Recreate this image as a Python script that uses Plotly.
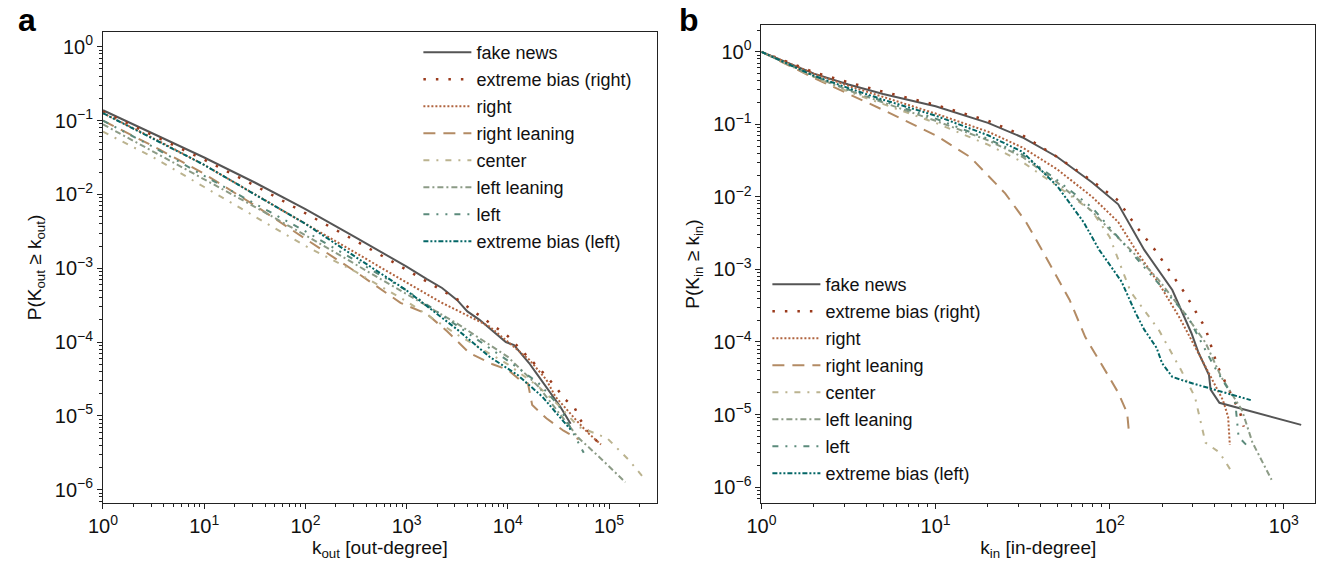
import plotly.graph_objects as go

# ---------------- data ----------------
series_names = ["fake news", "extreme bias (right)", "right", "right leaning",
                "center", "left leaning", "left", "extreme bias (left)"]

# Panel a: out-degree complementary CDF
kout_fake = [1, 3.16, 10, 31.6, 100, 316, 1000, 1585, 2240, 3160, 3980, 5250, 7080, 9550, 11500, 13800, 16200, 19100, 22400, 26900, 33100, 41700]
pout_fake = [0.138, 0.066, 0.0316, 0.0145, 6.3e-3, 2.6e-3, 1.05e-3, 7.1e-4, 5.4e-4, 3.7e-4, 2.6e-4, 2.0e-4, 1.41e-4, 1.0e-4, 9.1e-5, 6.8e-5, 5.2e-5, 3.8e-5, 2.8e-5, 2.04e-5, 1.32e-5, 7.8e-6]

kout_xright = [1, 3.16, 10, 31.6, 100, 316, 1000, 3160, 10000, 21400, 30200, 36300, 45700, 51300, 63100, 81300]
pout_xright = [0.132, 0.063, 0.0295, 0.0132, 5.6e-3, 2.34e-3, 9.5e-4, 3.8e-4, 1.2e-4, 4.1e-5, 2.4e-5, 1.7e-5, 1.29e-5, 9.1e-6, 6.0e-6, 4.1e-6]

kout_right = [1, 3.16, 10, 31.6, 100, 316, 1000, 2140, 6610, 16200, 24000, 29500, 46800, 61700, 83200]
pout_right = [0.126, 0.0575, 0.0251, 0.01, 4.0e-3, 1.58e-3, 6.3e-4, 3.5e-4, 1.62e-4, 5.8e-5, 3.1e-5, 1.82e-5, 8.9e-6, 5.9e-6, 4.1e-6]

kout_rlean = [1, 3.16, 10, 31.6, 100, 316, 870, 1585, 2510, 4170, 7080, 10000, 13800, 15800, 17400, 24000, 35500, 50100]
pout_rlean = [0.1, 0.0447, 0.019, 7.1e-3, 2.5e-3, 8.9e-4, 3.4e-4, 2.4e-4, 1.4e-4, 7.1e-5, 5.0e-5, 4.2e-5, 2.9e-5, 2.75e-5, 1.4e-5, 9.3e-6, 6.3e-6, 4.8e-6]

kout_center = [1, 3.16, 10, 31.6, 100, 316, 1000, 3160, 10000, 20000, 31600, 50100, 95500, 158000, 224000]
pout_center = [0.0708, 0.0316, 0.0126, 5.0e-3, 2.0e-3, 8.9e-4, 3.55e-4, 1.26e-4, 5.0e-5, 2.5e-5, 1.4e-5, 7.1e-6, 5.0e-6, 2.5e-6, 1.4e-6]

kout_llean = [1, 3.16, 10, 31.6, 100, 316, 1000, 3160, 10000, 20000, 31600, 50100, 79400, 145000]
pout_llean = [0.089, 0.038, 0.0158, 6.8e-3, 2.8e-3, 1.12e-3, 4.5e-4, 1.78e-4, 6.3e-5, 2.5e-5, 1.12e-5, 5.0e-6, 2.8e-6, 1.26e-6]

kout_left = [1, 3.16, 10, 31.6, 100, 316, 1000, 3160, 10000, 20000, 31600, 56200]
pout_left = [0.1, 0.0437, 0.0178, 7.6e-3, 3.16e-3, 1.26e-3, 5.0e-4, 1.66e-4, 5.6e-5, 2.8e-5, 1.4e-5, 3.16e-6]

kout_xleft = [1, 3.16, 10, 31.6, 100, 316, 1000, 3160, 6610, 12600, 21900, 41700]
pout_xleft = [0.126, 0.056, 0.0251, 0.01, 4.0e-3, 1.41e-3, 5.0e-4, 1.48e-4, 6.3e-5, 3.55e-5, 1.82e-5, 6.5e-6]

# Panel b: in-degree complementary CDF
kin_fake = [1, 2, 3.16, 5, 10, 20, 31.6, 50, 79.4, 112, 158, 229, 295, 324, 372, 380, 427, 1259]
pin_fake = [1, 0.5, 0.355, 0.263, 0.178, 0.105, 0.066, 0.0355, 0.0158, 7.9e-3, 1.86e-3, 5.2e-4, 1.32e-4, 7.1e-5, 3.5e-5, 2.2e-5, 1.45e-5, 7.2e-6]

kin_xright = [1, 2, 3.16, 5, 10, 20, 31.6, 50, 79.4, 112, 141, 182, 269, 355, 417, 562, 589]
pin_xright = [1, 0.525, 0.38, 0.282, 0.186, 0.112, 0.0708, 0.0355, 0.0166, 8.9e-3, 4.0e-3, 1.86e-3, 4.8e-4, 1.55e-4, 4.6e-5, 1.05e-5, 6.8e-6]

kin_right = [1, 2, 3.16, 5, 10, 20, 31.6, 50, 79.4, 112, 141, 191, 251, 316, 398, 447, 479, 490]
pin_right = [1, 0.5, 0.339, 0.24, 0.141, 0.0794, 0.0479, 0.024, 0.01, 4.5e-3, 1.86e-3, 6.5e-4, 2.2e-4, 7.8e-5, 2.7e-5, 1.58e-5, 9.3e-6, 3.8e-6]

kin_rlean = [1, 2, 3.16, 5, 10, 15.8, 25.1, 33.1, 41.7, 49, 58.9, 72.4, 85.1, 97.7, 112, 126, 129]
pin_rlean = [1, 0.437, 0.263, 0.158, 0.0708, 0.0355, 0.0112, 4.5e-3, 1.7e-3, 8.3e-4, 3.8e-4, 1.17e-4, 6.2e-5, 3.5e-5, 2.0e-5, 1.05e-5, 5.8e-6]

kin_center = [1, 2, 3.16, 5, 10, 20, 31.6, 50, 79.4, 100, 132, 191, 257, 309, 355, 427, 513]
pin_center = [1, 0.447, 0.282, 0.19, 0.105, 0.0525, 0.0302, 0.0141, 6.3e-3, 2.8e-3, 4.9e-4, 1.48e-4, 4.1e-5, 1.74e-5, 4.1e-6, 3.0e-6, 1.5e-6]

kin_llean = [1, 2, 3.16, 5, 10, 20, 31.6, 50, 79.4, 100, 132, 191, 269, 355, 437, 575, 661, 851]
pin_llean = [1, 0.457, 0.295, 0.2, 0.112, 0.0603, 0.0355, 0.0158, 6.3e-3, 3.55e-3, 1.86e-3, 7.2e-4, 2.5e-4, 9.8e-5, 3.3e-5, 1.15e-5, 4.1e-6, 1.26e-6]

kin_left = [1, 2, 3.16, 5, 10, 20, 31.6, 50, 79.4, 126, 200, 282, 398, 525, 550, 631]
pin_left = [1, 0.468, 0.302, 0.209, 0.12, 0.063, 0.038, 0.017, 7.1e-3, 2.0e-3, 5.6e-4, 2.2e-4, 4.6e-5, 1.58e-5, 4.9e-6, 3.5e-6]

kin_xleft = [1, 2, 3.16, 5, 10, 20, 31.6, 50, 70.8, 87.1, 117, 141, 158, 186, 200, 229, 282, 398, 646]
pin_xleft = [1, 0.468, 0.316, 0.219, 0.132, 0.0708, 0.0417, 0.0141, 4.5e-3, 1.86e-3, 6.8e-4, 2.5e-4, 1.48e-4, 8.3e-5, 5.1e-5, 3.3e-5, 2.8e-5, 2.2e-5, 1.58e-5]

ytick_vals = [1, 1e-1, 1e-2, 1e-3, 1e-4, 1e-5, 1e-6]
ytick_text = ["10<sup>0</sup>", "10<sup>−1</sup>", "10<sup>−2</sup>", "10<sup>−3</sup>",
              "10<sup>−4</sup>", "10<sup>−5</sup>", "10<sup>−6</sup>"]
xtick_vals_a = [1, 10, 100, 1000, 10000, 100000]
xtick_text_a = ["10<sup>0</sup>", "10<sup>1</sup>", "10<sup>2</sup>", "10<sup>3</sup>",
                "10<sup>4</sup>", "10<sup>5</sup>"]
xtick_vals_b = [1, 10, 100, 1000]
xtick_text_b = ["10<sup>0</sup>", "10<sup>1</sup>", "10<sup>2</sup>", "10<sup>3</sup>"]

# ---------------- styles ----------------
colors = ["#555555", "#9a3a1c", "#b0633e", "#b38b64", "#bbb38f", "#8c9b86", "#5b8a7b", "#036666"]
dashes = ["solid", "2.5px,10px", "2px,2px", "12px,8px", "6px,7px,2px,7px",
          "6px,3px,2px,3px", "6px,7px,2px,7px,2px,7px", "5px,2px,2px,2px,2px,2px"]
widths = [2, 2.5, 2, 2, 2, 2, 2, 2]

panel_a = [(kout_fake, pout_fake), (kout_xright, pout_xright), (kout_right, pout_right),
           (kout_rlean, pout_rlean), (kout_center, pout_center), (kout_llean, pout_llean),
           (kout_left, pout_left), (kout_xleft, pout_xleft)]
panel_b = [(kin_fake, pin_fake), (kin_xright, pin_xright), (kin_right, pin_right),
           (kin_rlean, pin_rlean), (kin_center, pin_center), (kin_llean, pin_llean),
           (kin_left, pin_left), (kin_xleft, pin_xleft)]

FONT = "Liberation Sans, Arial, Helvetica, sans-serif"
fig = go.Figure()

for i, (name, (x, y)) in enumerate(zip(series_names, panel_a)):
    fig.add_trace(go.Scatter(x=x, y=y, mode="lines", name=name,
                             line=dict(color=colors[i], dash=dashes[i], width=widths[i]),
                             xaxis="x", yaxis="y", legend="legend", legendgroup="a%d" % i))
for i, (name, (x, y)) in enumerate(zip(series_names, panel_b)):
    fig.add_trace(go.Scatter(x=x, y=y, mode="lines", name=name,
                             line=dict(color=colors[i], dash=dashes[i], width=widths[i]),
                             xaxis="x2", yaxis="y2", legend="legend2", legendgroup="b%d" % i))

W, H = 1325, 565
def dx(px):
    return px / W
def dy(py):
    return 1 - py / H

minor_x_a = [m * 10 ** e for e in range(0, 6) for m in range(2, 10)]
minor_x_b = [m * 10 ** e for e in range(0, 4) for m in range(2, 10)]
minor_y = [m * 10.0 ** e for e in range(-7, 1) for m in range(2, 10)]

axis_common = dict(type="log", showgrid=False, zeroline=False, showline=True, mirror=True,
                   linecolor="#222222", linewidth=1, ticks="outside", ticklen=5, tickwidth=1,
                   tickcolor="#222222", tickmode="array",
                   tickfont=dict(family=FONT, size=20, color="#111111"))

def minor(vals):
    return dict(ticks="outside", ticklen=3, tickwidth=1, tickcolor="#222222",
                tickmode="array", tickvals=vals, showgrid=False)

TFONT = dict(family=FONT, size=19, color="#111111")
LFONT = dict(family=FONT, size=18, color="#111111")

fig.update_layout(
    width=W, height=H, margin=dict(l=0, r=0, t=0, b=0),
    paper_bgcolor="white", plot_bgcolor="white",
    font=dict(family=FONT, size=16, color="#111111"),
    xaxis=dict(axis_common, domain=[dx(89), dx(649)], range=[0, 5.47], anchor="y",
               tickvals=xtick_vals_a, ticktext=xtick_text_a, minor=minor(minor_x_a),
               title=dict(text="k<sub>out</sub> [out-degree]", standoff=4, font=TFONT)),
    yaxis=dict(axis_common, domain=[dy(503), dy(32)], range=[-6.18, 0.2], anchor="x",
               tickvals=ytick_vals, ticktext=ytick_text, minor=minor(minor_y),
               title=dict(text="P(K<sub>out</sub> ≥ k<sub>out</sub>)", standoff=8, font=TFONT)),
    xaxis2=dict(axis_common, domain=[dx(755), dx(1315)], range=[0, 3.18], anchor="y2",
                tickvals=xtick_vals_b, ticktext=xtick_text_b, minor=minor(minor_x_b),
                title=dict(text="k<sub>in</sub> [in-degree]", standoff=4, font=TFONT)),
    yaxis2=dict(axis_common, domain=[dy(503), dy(25)], range=[-6.22, 0.37], anchor="x2",
                tickvals=ytick_vals, ticktext=ytick_text, minor=minor(minor_y),
                title=dict(text="P(K<sub>in</sub> ≥ k<sub>in</sub>)", standoff=8, font=TFONT)),
    legend=dict(x=dx(408), y=dy(34), xanchor="left", yanchor="top",
                bgcolor="rgba(0,0,0,0)", borderwidth=0, tracegroupgap=0.6,
                font=LFONT, itemwidth=48),
    legend2=dict(x=dx(761), y=dy(266), xanchor="left", yanchor="top",
                 bgcolor="rgba(0,0,0,0)", borderwidth=0, tracegroupgap=0.6,
                 font=LFONT, itemwidth=48),
    annotations=[
        dict(text="<b>a</b>", x=dx(1), y=dy(0), xref="paper", yref="paper",
             xanchor="left", yanchor="top", showarrow=False,
             font=dict(family=FONT, size=32, color="#000000")),
        dict(text="<b>b</b>", x=dx(670), y=dy(0), xref="paper", yref="paper",
             xanchor="left", yanchor="top", showarrow=False,
             font=dict(family=FONT, size=32, color="#000000")),
    ],
)

fig.write_html("out.html")
